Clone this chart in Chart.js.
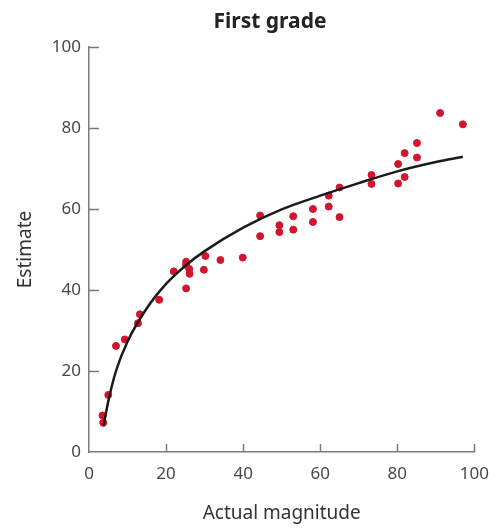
<!DOCTYPE html>
<html>
<head>
<meta charset="utf-8">
<script src="https://cdn.jsdelivr.net/npm/chart.js@4"></script>
<style>
  html, body { margin: 0; padding: 0; background: #fff; }
  #wrap { width: 501px; height: 528px; }
</style>
</head>
<body>
<div id="wrap"><canvas id="chart" width="501" height="528"></canvas></div>
<script>
// observed estimates (red dots)
var pointX = [3.5, 3.7, 5.0, 7.0, 9.3, 12.7, 13.2, 18.2, 22.0, 25.2, 25.2, 26.0, 26.1, 25.2,
              30.2, 29.8, 34.1, 39.9, 44.4, 44.4, 49.4, 49.4, 53.0, 53.0, 58.1, 58.1,
              62.2, 62.2, 65.0, 65.0, 73.3, 73.3, 80.2, 80.2, 81.9, 81.9, 85.1, 85.1, 91.1, 97.0];
var pointY = [9.0, 7.2, 14.1, 26.2, 27.8, 31.8, 34.0, 37.6, 44.6, 47.0, 40.4, 45.2, 44.0, 46.2,
              48.4, 45.0, 47.4, 48.0, 58.4, 53.3, 56.0, 54.3, 58.2, 54.9, 60.0, 56.8,
              63.3, 60.6, 65.3, 58.0, 68.4, 66.2, 71.1, 66.3, 73.8, 67.9, 76.3, 72.7, 83.7, 80.9];

// fitted curve
var curveX = [3.8, 5, 7, 10, 15, 20, 25, 30, 40, 50, 60, 70, 80, 90, 97];
var curveY = [6.5, 12.5, 20.0, 27.3, 35.5, 41.5, 46.0, 49.6, 55.4, 59.9, 63.3, 66.4, 69.3, 71.6, 72.9];

var xTicks = [0, 20, 40, 60, 80, 100];
var yTicks = [0, 20, 40, 60, 80, 100];

var chartTitle = 'First grade';
var FONT = '"Noto Sans", "DejaVu Sans", sans-serif';

function toXY(xs, ys) {
  return xs.map(function (x, i) { return { x: x, y: ys[i] }; });
}

// ticks in this chart point inward, so draw them by hand; title sits a bit off-centre
var extras = {
  id: 'extras',
  afterDraw: function (chart) {
    var c = chart.ctx, xs = chart.scales.x, ys = chart.scales.y;
    c.save();
    c.strokeStyle = '#7a7a7a';
    c.lineWidth = 1.5;
    c.beginPath();
    yTicks.forEach(function (v) {
      if (v === 0) return;
      var py = Math.round(ys.getPixelForValue(v)) + 0.5;
      c.moveTo(xs.left, py);
      c.lineTo(xs.left + 10, py);
    });
    xTicks.forEach(function (v) {
      if (v === 0) return;
      var px = Math.round(xs.getPixelForValue(v)) + 0.5;
      c.moveTo(px, ys.bottom);
      c.lineTo(px, ys.bottom - 8);
    });
    c.stroke();

    c.fillStyle = '#222';
    c.font = 'bold 21px ' + FONT;
    c.textAlign = 'center';
    c.textBaseline = 'middle';
    c.fillText(chartTitle, 270, 22);
    c.restore();
  }
};

new Chart(document.getElementById('chart'), {
  type: 'scatter',
  data: {
    datasets: [{
      label: 'Fit',
      type: 'line',
      data: toXY(curveX, curveY),
      borderColor: '#1b1b1b',
      borderWidth: 2.5,
      pointRadius: 0,
      cubicInterpolationMode: 'monotone',
      fill: false,
      order: 1
    }, {
      label: 'Estimates',
      data: toXY(pointX, pointY),
      backgroundColor: '#d3142e',
      borderColor: '#d3142e',
      pointRadius: 3.5,
      pointHoverRadius: 3.5,
      order: 2
    }]
  },
  options: {
    responsive: false,
    animation: false,
    layout: { padding: { left: 0, right: 21, top: 47, bottom: 0 } },
    plugins: {
      legend: { display: false },
      tooltip: { enabled: false },
      title: { display: false }
    },
    scales: {
      x: {
        type: 'linear',
        min: 0, max: 100,
        afterBuildTicks: function (s) { s.ticks = xTicks.map(function (v) { return { value: v }; }); },
        afterFit: function (s) { s.height = 76; },
        grid: { display: false, drawTicks: false },
        border: { display: true, color: '#7a7a7a', width: 1.5 },
        ticks: { color: '#484848', padding: 12, maxRotation: 0, font: { family: FONT, size: 17 } },
        title: {
          display: true,
          text: 'Actual magnitude',
          color: '#333',
          font: { family: FONT, size: 19 },
          padding: { top: 0, bottom: 3 }
        }
      },
      y: {
        type: 'linear',
        min: 0, max: 100,
        afterBuildTicks: function (s) { s.ticks = yTicks.map(function (v) { return { value: v }; }); },
        afterFit: function (s) { s.width = 89; },
        grid: { display: false, drawTicks: false },
        border: { display: true, color: '#7a7a7a', width: 1.5 },
        ticks: { color: '#484848', padding: 8, font: { family: FONT, size: 17 } },
        title: {
          display: true,
          text: 'Estimate',
          color: '#333',
          font: { family: FONT, size: 19 },
          padding: { top: 14, bottom: 0 }
        }
      }
    }
  },
  plugins: [extras]
});
</script>
</body>
</html>
